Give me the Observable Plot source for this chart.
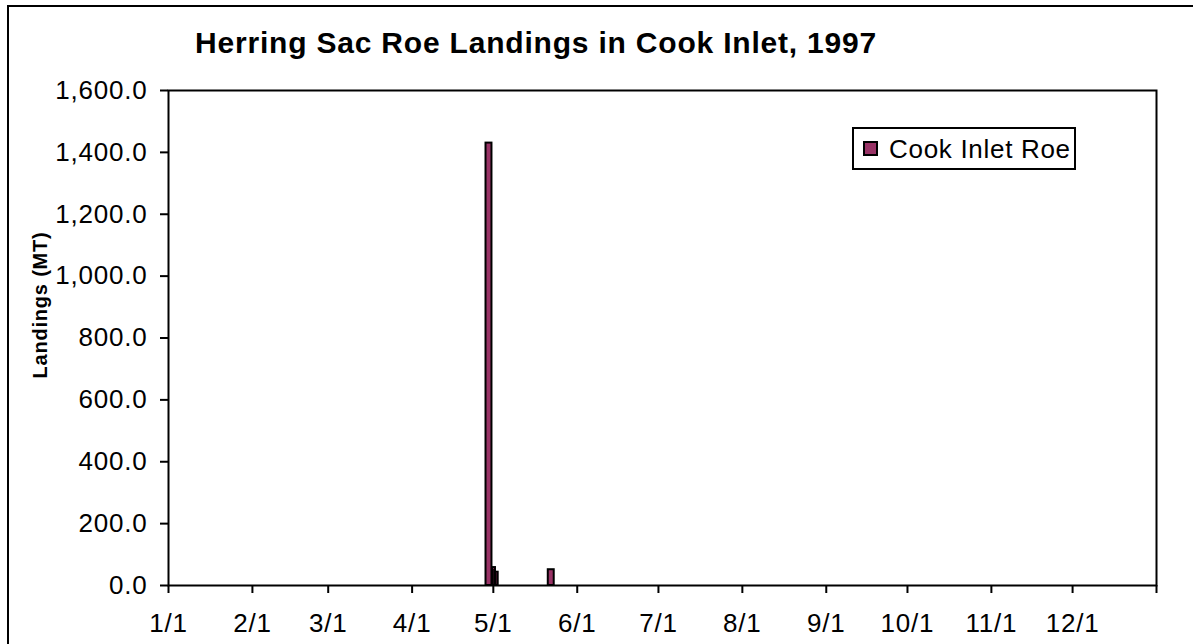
<!DOCTYPE html>
<html>
<head>
<meta charset="utf-8">
<script src="https://cdn.jsdelivr.net/npm/d3@7"></script>
<script src="https://cdn.jsdelivr.net/npm/@observablehq/plot@0.6"></script>
<style>
  html, body { margin: 0; padding: 0; background: #fff; overflow: hidden; }
  #wrap { position: relative; width: 1193px; height: 644px; font-family: "Liberation Sans", Arial, sans-serif; }
  #outer { position: absolute; left: 7px; top: 5px; width: 1300px; height: 800px; border-left: 2px solid #000; border-top: 2px solid #000; box-sizing: border-box; pointer-events: none; }
  #title { position: absolute; left: 195px; top: 28px; font-size: 30px; line-height: 30px; font-weight: bold; letter-spacing: 0.8px; white-space: nowrap; color: #000; }
  #legend { position: absolute; left: 852px; top: 127px; width: 224px; height: 43px; box-sizing: border-box; border: 2px solid #000; background: #fff; display: flex; align-items: center; }
  #legend .sw { width: 15px; height: 15px; box-sizing: border-box; border: 2px solid #000; margin-left: 9px; margin-right: 11px; }
  #legend .lab { font-size: 26px; letter-spacing: 0.7px; line-height: 26px; white-space: nowrap; }
</style>
</head>
<body>
<div id="wrap">
  <div id="chart"></div>
  <div id="outer"></div>
  <div id="title"></div>
  <div id="legend"><div class="sw"></div><div class="lab"></div></div>
</div>
<script>
// ---- data ----
const chartTitle = "Herring Sac Roe Landings in Cook Inlet, 1997";
const yAxisTitle = "Landings (MT)";
const seriesName = "Cook Inlet Roe";
const landingDates = ["1997-04-29", "1997-05-01", "1997-05-02", "1997-05-22"];
const landingValues = [1430, 58, 43, 51];
const yTicks = [0, 200, 400, 600, 800, 1000, 1200, 1400, 1600];
const xTickDates = ["1997-01-01", "1997-02-01", "1997-03-01", "1997-04-01", "1997-05-01", "1997-06-01",
  "1997-07-01", "1997-08-01", "1997-09-01", "1997-10-01", "1997-11-01", "1997-12-01", "1998-01-01"];
const xTickLabels = ["1/1", "2/1", "3/1", "4/1", "5/1", "6/1", "7/1", "8/1", "9/1", "10/1", "11/1", "12/1", ""];

const barColor = "#993366";
const DAY = 864e5;

// build bar table: wide bars, thin bars where neighbouring dates are one day apart
const times = landingDates.map(d => new Date(d + "T00:00:00Z").getTime());
const bars = times.map((t, i) => {
  const prevGap = i > 0 ? (t - times[i - 1]) / DAY : Infinity;
  const nextGap = i < times.length - 1 ? (times[i + 1] - t) / DAY : Infinity;
  const thin = prevGap <= 1 || nextGap <= 1;
  const half = thin ? 0.4 : 1.1;
  const c = t + 0.4 * DAY;
  return { x1: new Date(c - half * DAY), x2: new Date(c + half * DAY), value: landingValues[i] };
});

const tickDates = xTickDates.map(d => new Date(d + "T00:00:00Z"));
const labelOf = new Map(tickDates.map((d, i) => [d.getTime(), xTickLabels[i]]));

const chart = Plot.plot({
  width: 1193,
  height: 644,
  marginLeft: 168,
  marginRight: 37,
  marginTop: 90,
  marginBottom: 59,
  style: "font-family: 'Liberation Sans', Arial, sans-serif; font-size: 26px; letter-spacing: 0.8px; color: #000; background: transparent; overflow: visible;",
  x: { type: "utc", domain: [tickDates[0], tickDates[tickDates.length - 1]] },
  y: { domain: [0, 1600] },
  marks: [
    Plot.rect(bars, { x1: "x1", x2: "x2", y1: 0, y2: "value", fill: barColor, stroke: "#000", strokeWidth: 2 }),
    Plot.frame({ stroke: "#000", strokeWidth: 2 }),
    Plot.axisY({ ticks: yTicks, tickFormat: d3.format(",.1f"), tickSize: 8, tickPadding: 13, strokeWidth: 2, label: null }),
    Plot.axisX({ ticks: tickDates, tickFormat: d => labelOf.get(d.getTime()), tickSize: 8, tickPadding: 20, strokeWidth: 2, label: null }),
    Plot.text([yAxisTitle], { frameAnchor: "left", textAnchor: "middle", lineAnchor: "middle", rotate: -90, dx: -128, dy: -33, fontWeight: "bold", fontSize: 20, fill: "#000", style: "letter-spacing: 0px" })
  ]
});
document.getElementById("chart").appendChild(chart);
document.getElementById("title").textContent = chartTitle;
document.querySelector("#legend .sw").style.background = barColor;
document.querySelector("#legend .lab").textContent = seriesName;
</script>
</body>
</html>
